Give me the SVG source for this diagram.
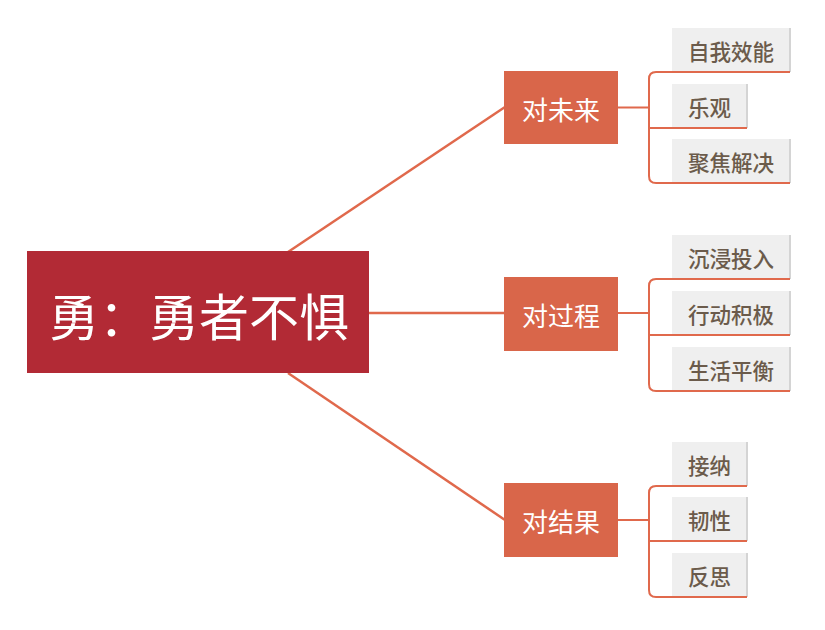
<svg xmlns="http://www.w3.org/2000/svg" width="825" height="630" viewBox="0 0 825 630">
<defs>
<style>
.root{fill:#b22a35}
.rtext{fill:#ffffff;font-family:"Noto Sans CJK SC","Noto Sans",sans-serif;font-size:50px}
.br{fill:#d9664a}
.btext{fill:#ffffff;font-family:"Noto Sans CJK SC","Noto Sans",sans-serif;font-size:26px}
.leaf{fill:#efefef}
.shadow{stroke:#d4d4d4;stroke-width:2;fill:none}
.ul{stroke:#e0694c;stroke-width:2;fill:none}
.ltext{fill:#6b5b4b;font-family:"Noto Sans CJK SC","Noto Sans",sans-serif;font-size:21.5px;font-weight:500}
.conn{stroke:#e0694c;stroke-width:2.5;fill:none}
.brk{stroke:#e0694c;stroke-width:2;fill:none}
</style>
</defs>
<rect width="825" height="630" fill="#ffffff"/>
<g id="connectors">
<line class="conn" x1="288" y1="252" x2="505" y2="107"/>
<line class="conn" x1="369" y1="313" x2="505" y2="313"/>
<line class="conn" x1="288" y1="373" x2="505" y2="520"/>
<path class="brk" d="M618,107.5 H649 M672,72 H656 Q649,72 649,79 V176 Q649,183 656,183 H672 M649,128 H672"/>
<path class="brk" d="M618,313 H649 M672,279 H656 Q649,279 649,286 V384 Q649,391 656,391 H672 M649,335 H672"/>
<path class="brk" d="M618,520 H649 M672,486 H656 Q649,486 649,493 V590 Q649,597 656,597 H672 M649,541 H672"/>
</g>
<g id="root">
<rect class="root" x="27" y="251" width="342" height="122"/>
<text class="rtext" x="199" y="314" text-anchor="middle" dominant-baseline="central">勇：勇者不惧</text>
</g>
<g id="b1">
<rect class="br" x="504" y="71" width="114" height="73"/>
<text class="btext" x="561" y="108" text-anchor="middle" dominant-baseline="central">对未来</text>
</g>
<g id="b2">
<rect class="br" x="504" y="277" width="114" height="74"/>
<text class="btext" x="561" y="314.5" text-anchor="middle" dominant-baseline="central">对过程</text>
</g>
<g id="b3">
<rect class="br" x="504" y="483" width="114" height="74"/>
<text class="btext" x="561" y="520.5" text-anchor="middle" dominant-baseline="central">对结果</text>
</g>
<g id="l1">
<rect class="leaf" x="672" y="28" width="118" height="45"/>
<line class="shadow" x1="790" y1="28" x2="790" y2="72"/>
<line class="ul" x1="672" y1="72" x2="790" y2="72"/>
<text class="ltext" x="731" y="50" text-anchor="middle" dominant-baseline="central">自我效能</text>
</g>
<g id="l2">
<rect class="leaf" x="672" y="84" width="75" height="45"/>
<line class="shadow" x1="747" y1="84" x2="747" y2="128"/>
<line class="ul" x1="672" y1="128" x2="747" y2="128"/>
<text class="ltext" x="709.5" y="106" text-anchor="middle" dominant-baseline="central">乐观</text>
</g>
<g id="l3">
<rect class="leaf" x="672" y="139" width="118" height="45"/>
<line class="shadow" x1="790" y1="139" x2="790" y2="183"/>
<line class="ul" x1="672" y1="183" x2="790" y2="183"/>
<text class="ltext" x="731" y="161" text-anchor="middle" dominant-baseline="central">聚焦解决</text>
</g>
<g id="l4">
<rect class="leaf" x="672" y="235" width="118" height="45"/>
<line class="shadow" x1="790" y1="235" x2="790" y2="279"/>
<line class="ul" x1="672" y1="279" x2="790" y2="279"/>
<text class="ltext" x="731" y="257" text-anchor="middle" dominant-baseline="central">沉浸投入</text>
</g>
<g id="l5">
<rect class="leaf" x="672" y="291" width="118" height="45"/>
<line class="shadow" x1="790" y1="291" x2="790" y2="335"/>
<line class="ul" x1="672" y1="335" x2="790" y2="335"/>
<text class="ltext" x="731" y="313" text-anchor="middle" dominant-baseline="central">行动积极</text>
</g>
<g id="l6">
<rect class="leaf" x="672" y="347" width="118" height="45"/>
<line class="shadow" x1="790" y1="347" x2="790" y2="391"/>
<line class="ul" x1="672" y1="391" x2="790" y2="391"/>
<text class="ltext" x="731" y="369" text-anchor="middle" dominant-baseline="central">生活平衡</text>
</g>
<g id="l7">
<rect class="leaf" x="672" y="442" width="75" height="45"/>
<line class="shadow" x1="747" y1="442" x2="747" y2="486"/>
<line class="ul" x1="672" y1="486" x2="747" y2="486"/>
<text class="ltext" x="709.5" y="464" text-anchor="middle" dominant-baseline="central">接纳</text>
</g>
<g id="l8">
<rect class="leaf" x="672" y="497" width="75" height="45"/>
<line class="shadow" x1="747" y1="497" x2="747" y2="541"/>
<line class="ul" x1="672" y1="541" x2="747" y2="541"/>
<text class="ltext" x="709.5" y="519" text-anchor="middle" dominant-baseline="central">韧性</text>
</g>
<g id="l9">
<rect class="leaf" x="672" y="553" width="75" height="45"/>
<line class="shadow" x1="747" y1="553" x2="747" y2="597"/>
<line class="ul" x1="672" y1="597" x2="747" y2="597"/>
<text class="ltext" x="709.5" y="575" text-anchor="middle" dominant-baseline="central">反思</text>
</g>
</svg>
